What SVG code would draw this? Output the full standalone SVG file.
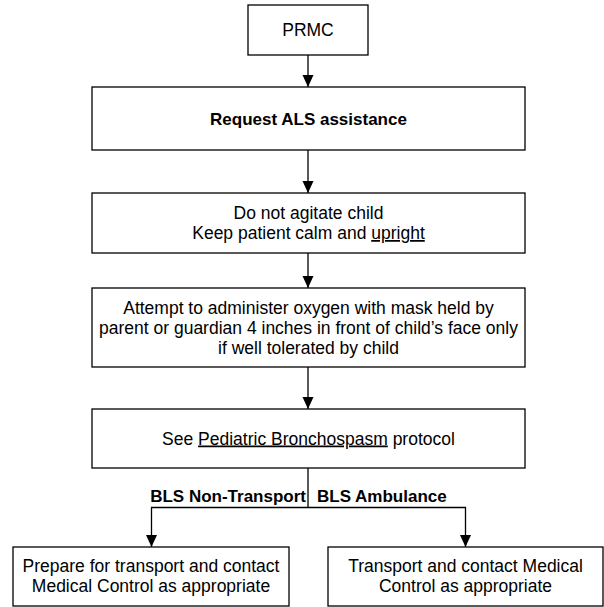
<svg xmlns="http://www.w3.org/2000/svg" width="604" height="607" viewBox="0 0 604 607">
<defs>
<marker id="ah" viewBox="0 0 12 12" refX="12" refY="6" markerWidth="12" markerHeight="12" markerUnits="userSpaceOnUse" orient="auto">
<path d="M0,0.5 L12,6 L0,11.5 Z" fill="#000"/>
</marker>
<style>
.box{fill:#fff;stroke:#000;stroke-width:1.3}
.t{font-family:"Liberation Sans",Arial,sans-serif;font-size:17.5px;fill:#000;text-anchor:middle}
.b{font-weight:bold;font-size:17px}
.c{fill:none;stroke:#000;stroke-width:1.3}
</style>
</defs>
<rect width="604" height="607" fill="#fff"/>
<g id="connectors">
<path class="c" d="M308,55 V87" marker-end="url(#ah)"/>
<path class="c" d="M308,150 V193" marker-end="url(#ah)"/>
<path class="c" d="M308,253 V288" marker-end="url(#ah)"/>
<path class="c" d="M308,367 V409" marker-end="url(#ah)"/>
<path class="c" d="M308,468 V507.5"/>
<path class="c" d="M308,507.5 H151.5 V547" marker-end="url(#ah)"/>
<path class="c" d="M308,507.5 H465.5 V547" marker-end="url(#ah)"/>
<text class="t b" x="306" y="502" style="text-anchor:end">BLS Non-Transport</text>
<text class="t b" x="317" y="502" style="text-anchor:start">BLS Ambulance</text>
</g>
<g id="prmc">
<rect class="box" x="248" y="5" width="120" height="50"/>
<text class="t" x="308" y="36">PRMC</text>
</g>
<g id="request-als">
<rect class="box" x="92" y="87" width="433" height="63"/>
<text class="t b" x="308.5" y="124.5">Request ALS assistance</text>
</g>
<g id="do-not-agitate">
<rect class="box" x="92" y="193" width="433" height="60"/>
<text class="t" x="308.5" y="219">Do not agitate child</text>
<text class="t" x="308.5" y="239">Keep patient calm and <tspan text-decoration="underline">upright</tspan></text>
</g>
<g id="oxygen">
<rect class="box" x="92" y="288" width="433" height="79"/>
<text class="t" x="308.5" y="314">Attempt to administer oxygen with mask held by</text>
<text class="t" x="308.5" y="334">parent or guardian 4 inches in front of child’s face only</text>
<text class="t" x="308.5" y="354">if well tolerated by child</text>
</g>
<g id="bronchospasm">
<rect class="box" x="92" y="409" width="433" height="59"/>
<text class="t" x="308.5" y="444.5">See <tspan text-decoration="underline">Pediatric Bronchospasm</tspan> protocol</text>
</g>
<g id="non-transport">
<rect class="box" x="13" y="547" width="276" height="59"/>
<text class="t" x="151" y="572">Prepare for transport and contact</text>
<text class="t" x="151" y="592">Medical Control as appropriate</text>
</g>
<g id="ambulance">
<rect class="box" x="328" y="547" width="275" height="59"/>
<text class="t" x="465.5" y="572">Transport and contact Medical</text>
<text class="t" x="465.5" y="592">Control as appropriate</text>
</g>
</svg>
